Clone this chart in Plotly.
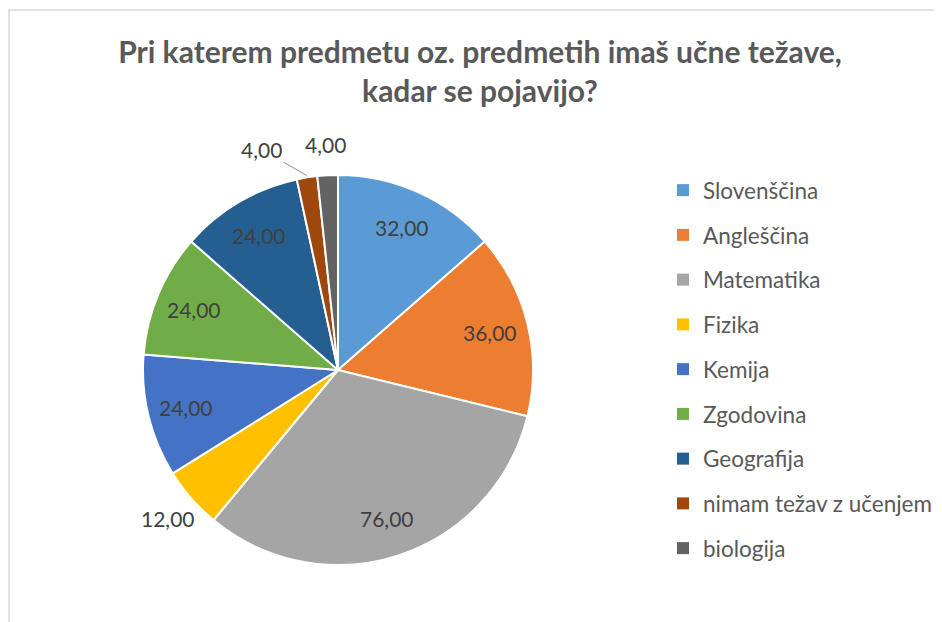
import math
import plotly.graph_objects as go

# ---- data ----
categories = ["Slovenščina", "Angleščina", "Matematika", "Fizika", "Kemija",
              "Zgodovina", "Geografija", "nimam težav z učenjem", "biologija"]
values = [32, 36, 76, 12, 24, 24, 24, 4, 4]
colors = ["#5B9BD5", "#ED7D31", "#A5A5A5", "#FFC000", "#4472C4",
          "#70AD47", "#255E91", "#9E480E", "#636363"]
label_pos = ["inside", "inside", "inside", "outside", "inside",
             "inside", "inside", "leader", "outside"]
title_text = "Pri katerem predmetu oz. predmetih imaš učne težave,<br>kadar se pojavijo?"

# ---- layout constants (pixels, page body has an 8px margin) ----
W, H = 942, 622
OFF = 8
CX, CY, R = 338 - OFF, 370 - OFF, 195
FONT = "Lato"
TXT = "#404040"

fig = go.Figure()
fig.add_trace(go.Pie(
    labels=categories, values=values, sort=False, direction="clockwise",
    rotation=0, textinfo="none", showlegend=False, hoverinfo="label+value",
    marker=dict(colors=colors, line=dict(color="white", width=2)),
    domain=dict(x=[(CX - R) / W, (CX + R) / W], y=[1 - (CY + R) / H, 1 - (CY - R) / H]),
))

# legend entries
for c, col in zip(categories, colors):
    fig.add_trace(go.Scatter(x=[None], y=[None], mode="markers", name=c, legendgroup=c,
                             marker=dict(symbol="square", size=9, color=col)))

# data labels computed from values
total = sum(values)
annotations = []
cum = 0
for v, pos in zip(values, label_pos):
    mid = (cum + v / 2) / total * 2 * math.pi
    cum += v
    txt = f"{v:.2f}".replace(".", ",")
    if pos == "inside":
        f = 0.8
    elif pos == "outside":
        f = 1.16
    else:
        f = 1.01
    px = CX + f * R * math.sin(mid)
    py = CY - f * R * math.cos(mid)
    a = dict(x=px / W, y=1 - py / H, xref="paper", yref="paper", text=txt,
             xanchor="center", yanchor="middle",
             font=dict(family=FONT, size=21, color=TXT), showarrow=False)
    if pos == "leader":
        a.update(showarrow=True, arrowhead=0, arrowwidth=1.2, arrowcolor="#A6A6A6",
                 ax=-45, ay=-26, standoff=0)
    annotations.append(a)

fig.update_layout(
    width=W, height=H,
    margin=dict(l=0, r=0, t=0, b=0),
    paper_bgcolor="white", plot_bgcolor="white",
    title=dict(text=title_text, x=(480 - OFF) / W, xanchor="center", y=1 - 55 / H, yanchor="top",
               font=dict(family=FONT, size=30, color="#595959", weight="bold")),
    xaxis=dict(visible=False), yaxis=dict(visible=False),
    legend=dict(x=(703 - OFF - 40) / W, xanchor="left", y=1 - 161 / H, yanchor="top",
                font=dict(family=FONT, size=22.5, color="#595959"),
                tracegroupgap=12.5, itemsizing="constant"),
    annotations=annotations,
    shapes=[dict(type="rect", xref="paper", yref="paper", x0=(9 - OFF) / W, x1=1.2,
                 y0=-0.2, y1=1 - (10 - OFF) / H, line=dict(color="#D9D9D9", width=1.5))],
)

fig.write_html("out.html")
